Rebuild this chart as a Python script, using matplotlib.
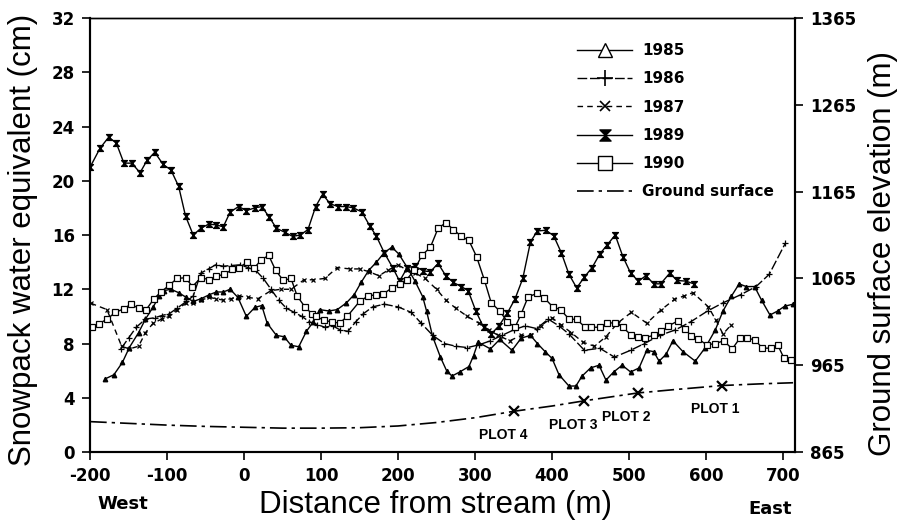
import matplotlib
matplotlib.use("Agg")
import matplotlib.pyplot as plt
from matplotlib.lines import Line2D
from matplotlib.path import Path

# ---------------- data ----------------
x85 = [-180,-169,-158,-149,-137,-128,-118,-110,-104,-95,-85,-75,-66,-56,-45,-36,-27,-18,-8,3,14,23,30,42,52,61,71,81,90,98,110,121,133,143,152,162,172,182,192,201,212,222,232,237,245,255,263,270,280,292,298,304,320,332,348,360,372,381,391,400,409,422,431,439,450,461,470,480,491,502,513,523,532,539,548,557,570,586,599,612,622,633,643,652,663,672,683,693,702,713]
y85 = [5.4,5.7,6.6,7.7,8.8,9.8,10.7,11.5,11.9,12.0,11.75,11.4,11.1,11.3,11.6,11.8,11.8,12.0,11.4,10.0,10.66,10.8,9.5,8.6,8.5,7.87,7.76,8.9,9.6,10.5,10.4,10.5,11.0,11.6,12.5,13.4,14.0,14.7,15.1,14.6,13.6,12.6,11.45,10.4,8.5,7.0,6.0,5.6,5.9,6.3,7.1,8.1,7.6,8.3,7.5,8.4,8.6,8.0,7.4,6.9,5.7,4.86,4.87,5.6,6.2,6.4,5.3,5.9,6.4,5.9,6.2,7.5,7.4,6.7,7.2,8.2,7.4,6.7,7.7,9.0,10.4,11.5,12.4,12.2,12.2,11.2,10.1,10.4,10.75,10.9]

x86 = [-160,-150,-140,-128,-116,-107,-97,-87,-75,-66,-56,-46,-37,-27,-17,-5,5,15,25,35,45,55,65,75,85,95,105,115,125,135,145,155,167,182,200,217,230,245,260,275,290,305,320,335,350,365,380,395,409,422,442,462,481,502,520,540,560,580,602,622,645,665,682,703]
y86 = [7.6,8.4,9.2,9.8,9.9,10.06,10.2,10.6,11.1,11.5,13.2,13.5,13.8,13.7,13.75,13.8,13.6,13.4,12.8,12.0,11.2,10.6,10.3,10.0,9.6,9.4,9.2,9.3,9.0,8.9,9.6,10.2,10.7,10.9,10.7,10.3,9.5,8.6,8.0,7.8,7.7,7.9,8.2,8.6,9.0,9.3,9.1,9.8,9.3,8.7,7.5,7.65,7.0,7.5,8.0,8.6,9.0,9.6,10.4,11.0,11.6,12.2,13.1,15.4]

x87 = [-199,-178,-159,-149,-137,-128,-118,-107,-97,-87,-75,-66,-56,-45,-36,-27,-17,-6,5,18,35,48,61,78,90,105,121,138,150,162,175,187,200,212,222,235,250,262,275,290,305,318,330,345,360,373,385,400,411,425,440,455,470,485,503,523,542,559,571,583,603,613,622,633]
y87 = [10.97,10.5,7.8,7.6,7.8,8.8,9.5,9.8,10.0,10.5,11.0,11.0,11.2,11.4,11.3,11.2,11.3,11.5,11.4,11.3,11.9,12.0,12.0,12.7,12.7,12.8,13.6,13.5,13.5,13.3,13.0,13.4,13.8,13.4,13.2,12.8,12.0,11.2,10.6,10.0,9.5,9.0,8.6,8.2,8.6,8.6,9.3,9.9,9.4,8.8,8.1,7.8,8.5,9.5,10.3,9.5,10.5,11.25,11.5,11.75,10.7,9.7,8.7,9.4]

x89 = [-200,-187,-176,-166,-156,-146,-135,-126,-116,-105,-95,-85,-76,-66,-56,-46,-36,-27,-18,-7,3,14,23,33,42,53,63,73,83,93,102,112,122,132,142,153,163,172,182,193,202,212,222,233,242,252,262,272,282,291,301,311,321,331,342,352,362,372,381,392,402,412,422,432,442,452,462,472,482,492,502,512,522,532,541,553,562,574,584]
y89 = [21.0,22.4,23.2,22.8,21.3,21.3,20.6,21.5,22.1,21.2,20.8,19.6,17.4,16.0,16.5,16.8,16.75,16.6,17.7,18.1,17.8,18.0,18.1,17.3,16.5,16.2,15.9,16.0,16.4,18.1,19.0,18.3,18.1,18.1,18.0,17.7,16.7,15.9,14.7,13.6,12.6,13.6,13.7,13.35,13.3,13.9,13.0,12.5,12.2,11.9,10.4,9.2,8.7,9.3,10.25,11.3,12.8,15.5,16.3,16.35,15.95,14.7,13.1,12.1,12.9,13.6,14.6,15.3,16.0,14.4,13.2,12.6,13.0,12.4,12.4,13.2,12.65,12.6,12.4]

x90 = [-198,-189,-178,-167,-156,-147,-137,-127,-117,-108,-97,-87,-76,-67,-56,-45,-37,-26,-15,-6,4,13,22,32,41,51,61,69,79,88,94,104,114,124,134,150,161,171,181,192,202,211,221,231,242,252,262,272,282,292,302,312,321,332,342,352,360,369,381,390,401,411,422,432,443,451,462,471,482,492,503,512,521,532,542,551,563,572,581,590,601,612,623,634,644,653,664,673,684,693,701,710]
y90 = [9.24,9.43,9.8,10.3,10.56,10.9,10.6,10.5,11.3,11.8,12.3,12.8,12.85,12.2,12.86,12.7,12.95,13.1,13.46,13.6,14.0,13.55,14.15,14.5,13.4,12.65,12.8,11.5,10.7,10.2,10.0,9.7,9.6,9.5,10.0,11.1,11.5,11.6,11.66,12.1,12.4,12.7,13.4,14.5,15.1,16.5,16.9,16.4,15.9,15.6,14.4,12.7,11.0,10.4,9.6,9.2,10.2,11.45,11.7,11.35,10.7,10.5,9.8,9.78,9.2,9.2,9.2,9.5,9.53,9.2,8.6,8.5,8.44,8.6,8.9,9.3,9.65,9.1,8.55,8.33,7.9,8.0,8.2,7.6,8.4,8.4,8.26,7.65,7.66,7.9,6.94,6.77]

x_ground = [-200,-150,-100,-50,0,50,100,150,200,250,300,351,400,442,511,560,621,670,713]
y_ground = [900,898,896,894.5,893.5,892.5,892.5,893,895,899,904.5,912,918,924,933,937,941.6,943.5,944.8]

plot_names = ["PLOT 4", "PLOT 3", "PLOT 2", "PLOT 1"]
plot_x = [351, 442, 511, 621]
plot_elev = [912, 923.9, 933, 941.6]

x_ticks = [-200,-100,0,100,200,300,400,500,600,700]
x_ticklabels = ["-200","-100","0","100","200","300","400","500","600","700"]
y_ticks = [0,4,8,12,16,20,24,28,32]
elev_ticks = [865,965,1065,1165,1265,1365]

# ---------------- plot ----------------
plt.rcParams['font.family'] = ['Liberation Sans', 'DejaVu Sans']
BOLD = ['DejaVu Sans']

fig = plt.figure(figsize=(9.04, 5.27), dpi=100)
ax = fig.add_axes([0.0996, 0.1423, 0.7794, 0.8235])
ax2 = ax.twinx()

hourglass = Path([(-1, 1), (1, 1), (-1, -1), (1, -1), (-1, 1)],
                 [Path.MOVETO, Path.LINETO, Path.LINETO, Path.LINETO, Path.CLOSEPOLY])

k = dict(color='black', lw=1.0)
ax.plot(x85, y85, ls='-', marker='^', ms=3.2, mfc='black', mec='black', **k)
ax.plot(x86, y86, ls=(0, (7, 2)), marker='+', ms=4.5, mew=0.9, **k)
ax.plot(x87, y87, ls=(0, (4, 3)), marker='x', ms=3.5, mew=0.9, **k)
ax.plot(x89, y89, ls='-', marker=hourglass, ms=4.2, mfc='black', mec='black', **k)
ax.plot(x90, y90, ls='-', marker='s', ms=4, mfc='white', mec='black', mew=0.9, **k)

ax2.plot(x_ground, y_ground, color='black', lw=1.2, ls=(0, (10, 3, 2, 3)))
ax2.plot(plot_x, plot_elev, ls='none', marker='x', ms=7, mew=1.6, color='black')
offsets = [(-8, -12), (-8, -12), (-8, -12), (-5, -12)]
for name, px, pe, (dx, dy) in zip(plot_names, plot_x, plot_elev, offsets):
    ax2.annotate(name, (px, pe), xytext=(dx, dy), textcoords='offset points',
                 ha='center', va='top', fontsize=10, fontweight='bold',
                 family=['Liberation Sans Narrow', 'Liberation Sans'])

ax.set_xlim(-200, 715)
ax.set_ylim(0, 32)
ax2.set_ylim(865, 1365)
ax.set_xticks(x_ticks)
ax.set_xticklabels(x_ticklabels)
ax.set_yticks(y_ticks)
ax2.set_yticks(elev_ticks)

for a in (ax, ax2):
    a.tick_params(direction='out', length=6, width=1.2, labelsize=12, pad=5)
    for lab in a.get_xticklabels() + a.get_yticklabels():
        lab.set_fontweight('bold')
        lab.set_family(BOLD)
    for s in a.spines.values():
        s.set_linewidth(1.5)
    a.spines['top'].set_linewidth(1.0)

ax.set_ylabel("Snowpack water equivalent (cm)", fontsize=22.5)
ax.yaxis.set_label_coords(-0.0738, 0.488)
ax2.set_ylabel("Ground surface elevation (m)", fontsize=22.5)
ax2.yaxis.set_label_coords(1.104, 0.4585)
ax.set_xlabel("Distance from stream (m)", fontsize=22.5)
ax.xaxis.set_label_coords(0.491, -0.0876)

fig.text(123/904, 1 - 504/527, "West", fontsize=13, fontweight='bold',
         ha='center', va='center', family=BOLD)
fig.text(770/904, 1 - 509/527, "East", fontsize=13, fontweight='bold',
         ha='center', va='center', family=BOLD)

handles = [
    Line2D([], [], color='black', lw=1.0, marker='^', ms=10, mfc='white', mec='black'),
    Line2D([], [], color='black', lw=1.0, ls=(0, (7, 2)), marker='+', ms=11, mew=1.2),
    Line2D([], [], color='black', lw=1.0, ls=(0, (4, 3)), marker='x', ms=7, mew=1.2),
    Line2D([], [], color='black', lw=1.0, marker=hourglass, ms=8, mfc='black'),
    Line2D([], [], color='black', lw=1.0, marker='s', ms=10, mfc='white', mec='black'),
    Line2D([], [], color='black', lw=1.2, ls=(0, (10, 3, 2, 3))),
]
labels = ["1985", "1986", "1987", "1989", "1990", "Ground surface"]
leg = fig.legend(handles, labels, loc='upper left',
                 bbox_to_anchor=(577 / 904, 1 - 43 / 527),
                 bbox_transform=fig.transFigure,
                 frameon=False, handlelength=3.6, handletextpad=0.65,
                 labelspacing=0.87, borderpad=0, borderaxespad=0,
                 prop={'weight': 'bold', 'size': 11, 'family': BOLD})

fig.savefig("out.png", dpi=100)
